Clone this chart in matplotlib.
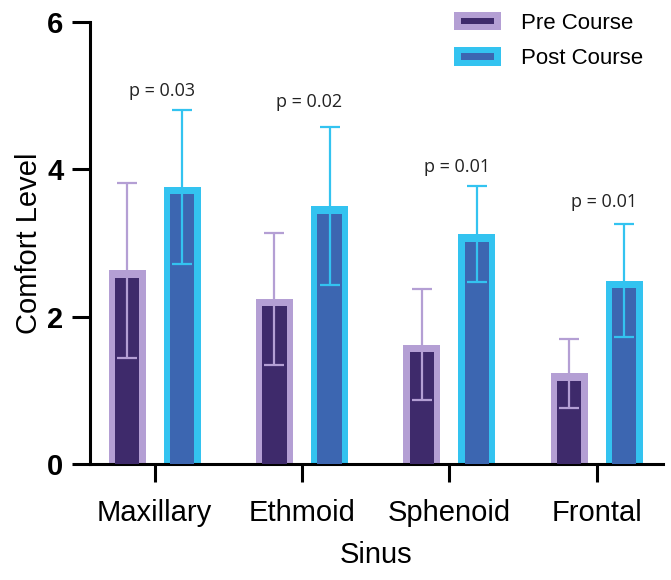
import matplotlib
matplotlib.use('Agg')
import matplotlib.pyplot as plt
import numpy as np
from matplotlib.patches import Patch, Rectangle
from matplotlib.legend_handler import HandlerBase

# data
sinus = ['Maxillary', 'Ethmoid', 'Sphenoid', 'Frontal']
pre_mean = [2.63, 2.24, 1.62, 1.23]
pre_sd = [1.19, 0.89, 0.75, 0.47]
post_mean = [3.76, 3.50, 3.12, 2.49]
post_sd = [1.05, 1.07, 0.65, 0.77]
p_values = ['p = 0.03', 'p = 0.02', 'p = 0.01', 'p = 0.01']
p_label_y = [5.06, 4.91, 4.03, 3.56]
y_ticks = [0, 2, 4, 6]

PRE_EDGE = '#b49fd4'
PRE_FILL = '#3e2a6b'
POST_EDGE = '#33c3f0'
POST_FILL = '#3c66b1'

plt.rcParams['font.family'] = ['Liberation Sans', 'DejaVu Sans']


class BarHandler(HandlerBase):
    """Legend key: light rectangle with a dark bar inside."""
    def create_artists(self, legend, orig_handle, xdescent, ydescent,
                       width, height, fontsize, trans):
        outer = Rectangle((-xdescent, -ydescent), width, height,
                          facecolor=orig_handle.get_facecolor(),
                          edgecolor='none', transform=trans)
        iw, ih = width * 0.7, height * 0.35
        inner = Rectangle((-xdescent + (width - iw) / 2, -ydescent + (height - ih) / 2),
                          iw, ih, facecolor=orig_handle.get_edgecolor(),
                          edgecolor='none', transform=trans)
        return [outer, inner]


def draw_bars(ax, x, mean, sd, edge, fill):
    width = 0.25
    inner_w = 0.165
    top_gap = 0.1
    ax.bar(x, mean, width, color=edge, zorder=2)
    ax.bar(x, np.array(mean) - top_gap, inner_w, color=fill, zorder=3)
    ax.errorbar(x, mean, yerr=sd, fmt='none', ecolor=edge, elinewidth=1.6,
                capsize=7.5, capthick=1.6, zorder=4)


fig = plt.figure(figsize=(6.71, 5.8), dpi=100)
ax = fig.add_axes([0.134, 0.2, 0.854, 0.762])

x = np.arange(len(sinus))
offset = 0.187
draw_bars(ax, x - offset, pre_mean, pre_sd, PRE_EDGE, PRE_FILL)
draw_bars(ax, x + offset, post_mean, post_sd, POST_EDGE, POST_FILL)

for xi, label, ly in zip(x, p_values, p_label_y):
    ax.text(xi + 0.05, ly, label, ha='center', va='center', fontsize=13,
            family=['Open Sans', 'DejaVu Sans'], color='#222222')

ax.set_xlim(-0.44, 3.45)
ax.set_ylim(0, 6)
ax.set_yticks(y_ticks)
ax.set_yticklabels([str(t) for t in y_ticks], fontsize=21, fontweight='bold')
ax.set_xticks(x)
ax.set_xticklabels(sinus, fontsize=21)
ax.set_xlabel('Sinus', fontsize=21, labelpad=10)
ax.set_ylabel('Comfort Level', fontsize=21, labelpad=3)

for side in ['top', 'right']:
    ax.spines[side].set_visible(False)
for side in ['left', 'bottom']:
    ax.spines[side].set_linewidth(2.2)
ax.tick_params(axis='y', length=13, width=2.2, pad=6)
ax.tick_params(axis='x', length=13, width=2.2, pad=12)

handles = [Patch(facecolor=PRE_EDGE, edgecolor=PRE_FILL),
           Patch(facecolor=POST_EDGE, edgecolor=POST_FILL)]
ax.legend(handles, ['Pre Course', 'Post Course'], handler_map={Patch: BarHandler()},
          loc='upper right', bbox_to_anchor=(1.0, 1.068), frameon=False, fontsize=16,
          handlelength=2.1, handleheight=0.9, handletextpad=0.9, labelspacing=0.6)

plt.savefig('out.png', dpi=100)
plt.close()
